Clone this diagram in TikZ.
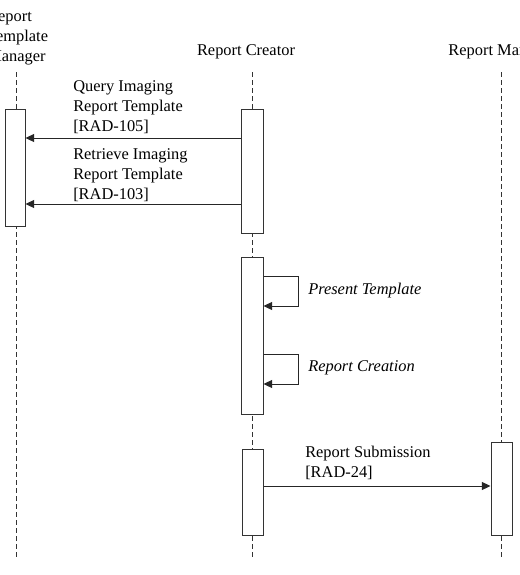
\documentclass[tikz,border=0pt]{standalone}
\usepackage{fontspec}
\setmainfont{Liberation Serif}
\usetikzlibrary{arrows.meta,fit}
\begin{document}
\begin{tikzpicture}[x=0.75pt,y=-0.75pt,
 lbl/.style={font=\fontsize{12.3}{14.9}\selectfont, inner sep=0, align=left},
 act/.style={draw=black!80, fill=white, line width=0.75pt, inner sep=0},
 life/.style={draw=black!80, line width=0.75pt, dash pattern=on 3.5pt off 2.5pt},
 msg/.style={draw=black!85, line width=0.75pt, -{Triangle[length=6.5pt,width=6pt]}}]
\clip (0,0) rectangle (520,575);
\fill[white] (0,0) rectangle (520,575);
% headers
\node[lbl, anchor=west] (hm) at (-13,38) {Report\\Template\\Manager};
\node[lbl] (hc) at (246,52) {Report Creator};
\node[lbl] (hr) at (502,52) {Report Manager};
% lifelines
\coordinate (lmt) at (16,72);  \coordinate (lmb) at (16,559);
\coordinate (lct) at (252,72); \coordinate (lcb) at (252,559);
\coordinate (lrt) at (501,72); \coordinate (lrb) at (501,559);
\draw[life] (lmt) -- (lmb);
\draw[life] (lct) -- (lcb);
\draw[life] (lrt) -- (lrb);
% activation boxes
\node[act, fit={(5,109)(25,226)}] (m1) {};
\node[act, fit={(241,109)(263,233)}] (c1) {};
\node[act, fit={(241,257)(263,414)}] (c2) {};
\node[act, fit={(242,449)(263,535)}] (c3) {};
\node[act, fit={(491,442)(512,535)}] (r1) {};
% messages
\draw[msg] (c1.west |- 0,138) -- (m1.east |- 0,138);
\node[lbl, anchor=west] (l1) at (73,107) {Query Imaging\\Report Template\\{[RAD-105]}};
\draw[msg] (c1.west |- 0,204) -- (m1.east |- 0,204);
\node[lbl, anchor=west] (l2) at (73,175) {Retrieve Imaging\\Report Template\\{[RAD-103]}};
% self loops
\draw[msg] (c2.east |- 0,276) -- ++(35,0) |- (c2.east |- 0,306);
\node[lbl, anchor=west, font=\fontsize{12.3}{14.9}\selectfont\itshape] (l3) at (308,291) {Present Template};
\draw[msg] (c2.east |- 0,354) -- ++(35,0) |- (c2.east |- 0,384);
\node[lbl, anchor=west, font=\fontsize{12.3}{14.9}\selectfont\itshape] (l4) at (308,368) {Report Creation};
% submission
\draw[msg] (c3.east |- 0,486) -- (r1.west |- 0,486);
\node[lbl, anchor=west] (l5) at (305,463) {Report Submission\\{[RAD-24]}};
\end{tikzpicture}
\end{document}
